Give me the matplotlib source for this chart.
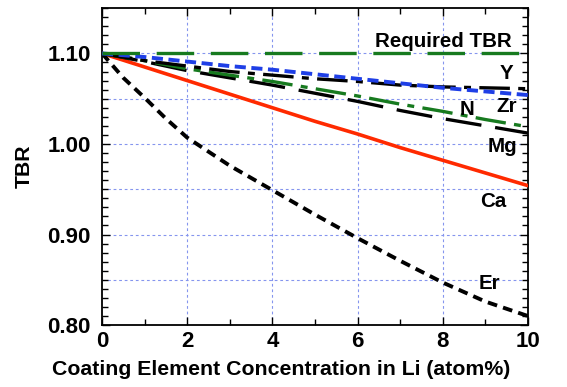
import matplotlib
matplotlib.use("Agg")
import matplotlib.pyplot as plt
from matplotlib.ticker import MultipleLocator, FormatStrFormatter

plt.rcParams['font.family'] = ['Liberation Sans', 'DejaVu Sans']
plt.rcParams['font.weight'] = 'bold'
plt.rcParams['lines.scale_dashes'] = False

# ---- data ----
x = [0, 1, 2, 3, 4, 5, 6, 7, 8, 9, 10]
required_tbr = [1.100] * 11
y_Y = [1.100, 1.096, 1.091, 1.086, 1.082, 1.077, 1.072, 1.067, 1.062, 1.058, 1.054]
y_Zr = [1.100, 1.092, 1.086, 1.080, 1.076, 1.072, 1.069, 1.065, 1.063, 1.062, 1.061]
y_N = [1.100, 1.092, 1.083, 1.076, 1.069, 1.061, 1.053, 1.044, 1.036, 1.027, 1.019]
y_Mg = [1.100, 1.091, 1.081, 1.073, 1.065, 1.056, 1.047, 1.037, 1.028, 1.020, 1.012]
y_Ca = [1.100, 1.085, 1.070, 1.055, 1.040, 1.025, 1.011, 0.996, 0.982, 0.968, 0.954]
x_Er = [0, 0.5, 1, 1.5, 2, 3, 4, 5, 6, 7, 8, 9, 10]
y_Er = [1.100, 1.073, 1.051, 1.028, 1.007, 0.976, 0.949, 0.922, 0.896, 0.871, 0.847, 0.826, 0.810]

labels = ["Required TBR", "Y", "Zr", "N", "Mg", "Ca", "Er"]
label_pos = [(8.02, 1.113), (9.5, 1.078), (9.5, 1.041), (8.57, 1.038),
             (9.41, 0.997), (9.18, 0.937), (9.1, 0.846)]

green = "#177a1f"
blue = "#1f3fe6"
red = "#ff2a00"
gridc = "#8595ee"

fig = plt.figure(figsize=(5.67, 3.87), dpi=100)
ax = fig.add_axes([0.180, 0.160, 0.751, 0.819])

for gx in [2, 4, 6, 8]:
    ax.axvline(gx, color=gridc, lw=0.8, ls=(0, (2, 2)), zorder=1)
for gy in [0.85, 0.90, 0.95, 1.00, 1.05, 1.10]:
    ax.axhline(gy, color=gridc, lw=0.8, ls=(0, (2, 2)), zorder=1)

ax.plot(x, y_Ca, color=red, lw=2.6, zorder=3)
ax.plot(x_Er, y_Er, color='black', lw=2.8, ls=(0, (7, 4.5)), zorder=3)
ax.plot(x, y_Mg, color='black', lw=2.4, ls=(0, (26, 10)), zorder=3)
ax.plot(x, y_N, color=green, lw=2.4, ls=(0, (22, 6, 5, 6)), zorder=3)
ax.plot(x, y_Zr, color='black', lw=2.4, ls=(0, (22, 6, 5, 6)), zorder=3)
ax.plot(x, y_Y, color=blue, lw=2.8, ls=(0, (8, 4)), zorder=3)
ax.plot(x, required_tbr, color=green, lw=2.4, ls=(0, (27, 12)), zorder=3)

for lab, (lx, ly) in zip(labels, label_pos):
    ax.text(lx, ly, lab, fontsize=14.8, fontweight='bold', ha='center', va='center', zorder=4)

ax.set_xlim(0, 10)
ax.set_ylim(0.80, 1.15)
ax.xaxis.set_major_locator(MultipleLocator(2))
ax.xaxis.set_minor_locator(MultipleLocator(1))
ax.yaxis.set_major_locator(MultipleLocator(0.1))
ax.yaxis.set_minor_locator(MultipleLocator(0.01))
ax.yaxis.set_major_formatter(FormatStrFormatter('%.2f'))
ax.tick_params(which='both', direction='in', top=True, right=True, width=1.0)
ax.tick_params(which='major', length=6, labelsize=16)
ax.tick_params(axis='x', which='major', pad=4)
ax.tick_params(axis='y', which='major', pad=8)
ax.tick_params(which='minor', length=4)
for sp in ax.spines.values():
    sp.set_linewidth(1.3)

ax.set_xlabel("Coating Element Concentration in Li (atom%)", fontsize=15.3, fontweight='bold', labelpad=6)
ax.xaxis.set_label_coords(0.42, -0.109)
ax.set_ylabel("TBR", fontsize=15.3, fontweight='bold', labelpad=10)

fig.savefig("out.png", dpi=100)
